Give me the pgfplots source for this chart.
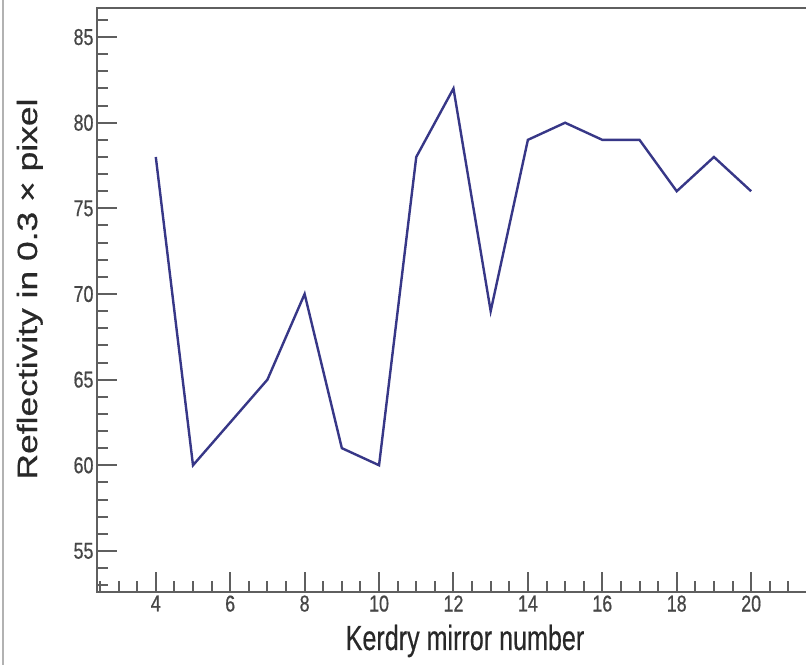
\documentclass[border=0pt]{standalone}
\usepackage{pgfplots}
\pgfplotsset{compat=1.18}
\usepackage{fontspec}
\setmainfont{Liberation Sans}
\newfontfamily\tickfont[FakeStretch=0.78, FakeBold=0.6]{Liberation Sans}
\newfontfamily\xlabfont[FakeStretch=0.72, FakeBold=0.4]{Liberation Sans}
\newfontfamily\ylabfont[FakeStretch=1.27, FakeBold=0.6]{Liberation Sans}
\definecolor{lineblue}{RGB}{55,55,135}
\definecolor{axgray}{RGB}{95,95,95}
\definecolor{txtgray}{RGB}{70,70,70}
\definecolor{labgray}{RGB}{40,40,40}
\begin{document}
\begin{tikzpicture}[x=1bp,y=1bp]
\useasboundingbox (0,0) rectangle (806,665);
\clip (0,0) rectangle (806,665);
\fill[white] (0,0) rectangle (806,665);
\draw[gray!60, line width=1.5bp] (3,0) -- (3,665);
\begin{axis}[
  at={(97bp,73bp)}, anchor=south west,
  scale only axis, width=736bp, height=584bp,
  xmin=2.42, xmax=22.2, ymin=52.6, ymax=86.7,
  axis line style={axgray, line width=2bp},
  tick pos=left, tick align=inside,
  xtick={4,6,...,20}, ytick={55,60,...,85},
  minor xtick={2.5,3,...,22}, minor ytick={53,54,...,86},
  major tick length=20bp, minor tick length=11bp,
  tick style={axgray, line width=2bp},
  /pgf/number format/assume math mode=true,
  ticklabel style={font=\tickfont\fontsize{23}{23}\selectfont, text=txtgray},
]
\addplot[lineblue, line width=2.4bp, mark=none] coordinates {
(4,78) (5,60) (6,62.5) (7,65) (8,70) (9,61) (10,60) (11,78) (12,82)
(13,69) (14,79) (15,80) (16,79) (17,79) (18,76) (19,78) (20,76)
};
\end{axis}
\node[anchor=base, text=labgray, inner sep=0] at (465,15) {\xlabfont\fontsize{35}{35}\selectfont Kerdry mirror number};
\node[rotate=90, anchor=base, text=labgray, inner sep=0] at (37,376) {\ylabfont\fontsize{28}{28}\selectfont Reflectivity in 0.3 × pixel};
\end{tikzpicture}
\end{document}
